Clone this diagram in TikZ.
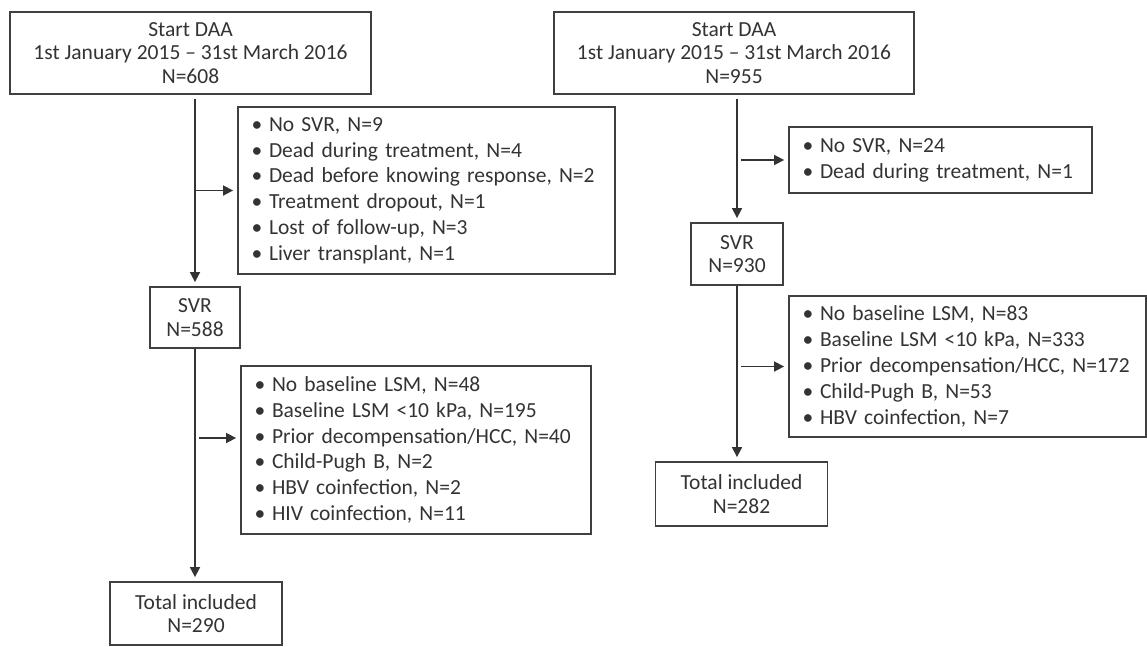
\documentclass[tikz,border=0pt]{standalone}
\usepackage{fontspec}
\setmainfont{Carlito}
\usetikzlibrary{arrows.meta}
\newcommand{\itm}[1]{\mbox{\makebox[24pt][c]{\textbullet}#1}}

\begin{document}
\begin{tikzpicture}[x=1pt,y=-1pt,
  box/.style={draw=black!75,line width=1.8pt,align=center,inner sep=0pt,text=black!80,font=\fontsize{21.5}{23.5}\selectfont},
  listbox/.style={draw=black!75,line width=1.8pt,align=left,inner xsep=7pt,inner ysep=0pt,text=black!80,font=\fontsize{21.5}{25.8}\selectfont},
  arr/.style={draw=black!80,line width=1.6pt,shorten >=4pt,-{Triangle[length=10pt,width=10pt]}}]
\useasboundingbox (0,0) rectangle (1147,646);
% left flow
\node[box,minimum width=361,minimum height=82](start1)at(190.5,53){Start DAA\\1st January 2015 -- 31st March 2016\\N=608};
\node[listbox,text width=363,minimum height=167](excl1)at(426.5,190.5){\itm{No SVR, N=9}\\\itm{Dead during treatment, N=4}\\\itm{Dead before knowing response, N=2}\\\itm{Treatment dropout, N=1}\\\itm{Lost of follow-up, N=3}\\\itm{Liver transplant, N=1}};
\node[box,minimum width=90,minimum height=61](svr1)at(195,317.5){SVR\\N=588};
\node[listbox,text width=336,minimum height=168](excl2)at(416,450){\itm{No baseline LSM, N=48}\\\itm{Baseline LSM <10 kPa, N=195}\\\itm{Prior decompensation/HCC, N=40}\\\itm{Child-Pugh B, N=2}\\\itm{HBV coinfection, N=2}\\\itm{HIV coinfection, N=11}};
\node[box,minimum width=172,minimum height=63](total1)at(196,613.5){Total included\\N=290};
% right flow
\node[box,minimum width=360,minimum height=82](start2)at(734,53){Start DAA\\1st January 2015 -- 31st March 2016\\N=955};
\node[listbox,text width=289,minimum height=66](excl3)at(940.5,160){\itm{No SVR, N=24}\\\itm{Dead during treatment, N=1}};
\node[box,minimum width=92,minimum height=62](svr2)at(737,254){SVR\\N=930};
\node[listbox,text width=343,minimum height=141](excl4)at(967.5,366.5){\itm{No baseline LSM, N=83}\\\itm{Baseline LSM <10 kPa, N=333}\\\itm{Prior decompensation/HCC, N=172}\\\itm{Child-Pugh B, N=53}\\\itm{HBV coinfection, N=7}};
\node[box,minimum width=172,minimum height=64](total2)at(741.5,494){Total included\\N=282};
\coordinate(cut1)at(195,438);
% arrows
\draw[arr,shorten <=4pt](svr1.north|-start1.south)--(svr1.north);
\draw[arr](excl1.west-|svr1.north)--(excl1.west);
\draw[arr](svr1.south)--(svr1.south|-total1.north);
\draw[arr,shorten <=4pt](cut1)--(cut1-|excl2.west);
\draw[arr,shorten <=4pt](svr2.north|-start2.south)--(svr2.north);
\draw[arr,shorten <=4pt](excl3.west-|svr2.north)--(excl3.west);
\draw[arr](svr2.south)--(svr2.south|-total2.north);
\draw[arr,shorten <=4pt](excl4.west-|svr2.south)--(excl4.west);
\end{tikzpicture}
\end{document}
